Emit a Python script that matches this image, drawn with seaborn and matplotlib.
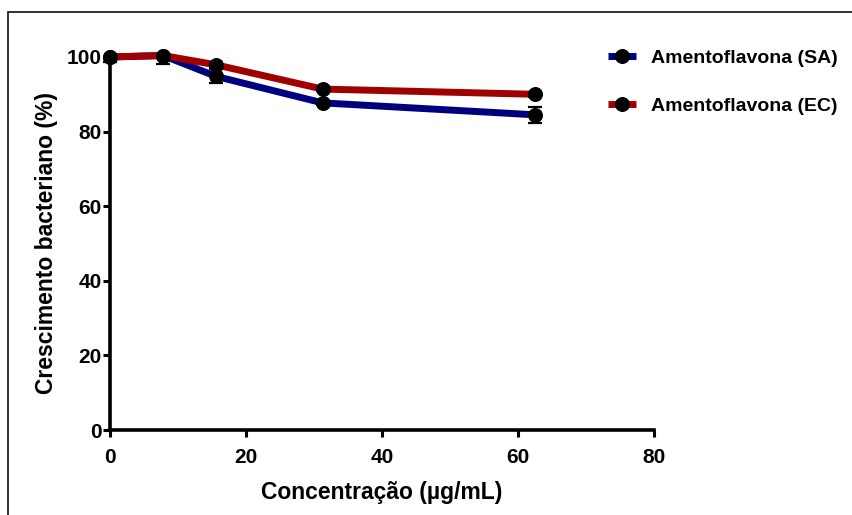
import matplotlib
matplotlib.use("Agg")
import matplotlib.pyplot as plt
import seaborn as sns
import pandas as pd
from matplotlib.patches import Rectangle

# Data
conc = [0, 7.8, 15.6, 31.25, 62.5]
sa_growth = [100.0, 100.4, 94.8, 87.7, 84.5]
sa_err = [1.3, 2.4, 1.9, 0.6, 2.1]
ec_growth = [100.0, 100.4, 97.9, 91.4, 90.0]
ec_err = [0.5, 0.5, 0.8, 0.6, 0.6]
series_names = ["Amentoflavona (SA)", "Amentoflavona (EC)"]
colors = ["#00007F", "#A00000"]
x_ticks = [0, 20, 40, 60, 80]
y_ticks = [0, 20, 40, 60, 80, 100]

sns.set_style("white")
plt.rcParams["font.family"] = ["Liberation Sans", "DejaVu Sans"]
plt.rcParams["font.weight"] = "bold"
plt.rcParams["text.color"] = "black"
plt.rcParams["axes.labelcolor"] = "black"
plt.rcParams["xtick.color"] = "black"
plt.rcParams["ytick.color"] = "black"

df = pd.DataFrame({
    "conc": conc * 2,
    "growth": sa_growth + ec_growth,
    "serie": [series_names[0]] * len(conc) + [series_names[1]] * len(conc),
})

fig = plt.figure(figsize=(8.52, 5.15), dpi=100)
ax = fig.add_axes([110 / 852, (515 - 430) / 515, (654 - 110) / 852, (430 - 57) / 515])

# frame around figure
fig.patches.append(Rectangle((8 / 852, -0.1), 1.2, (515 - 12) / 515 + 0.1,
                             transform=fig.transFigure, fill=False,
                             edgecolor="#222222", linewidth=1.3, zorder=0))

# error bars (clipped at the top of the y range, as in the original)
clip_rect = Rectangle((-10, -10), 100, 110, transform=ax.transData,
                      fill=False, visible=False)
ax.add_patch(clip_rect)
for g, e in [(sa_growth, sa_err), (ec_growth, ec_err)]:
    eb = ax.errorbar(conc, g, yerr=e, fmt="none", ecolor="black", elinewidth=1.6,
                     capsize=5, capthick=1.6, zorder=2)
    for art in eb.get_children():
        art.set_clip_on(True)
        art.set_clip_path(clip_rect)

sns.lineplot(data=df, x="conc", y="growth", hue="serie", palette=colors,
             hue_order=series_names, marker="o", markersize=10,
             markerfacecolor="black", markeredgecolor="black",
             linewidth=5, ax=ax, clip_on=False, zorder=3)

ax.set_xlim(0, 80)
ax.set_ylim(0, 100)
ax.set_xticks(x_ticks)
ax.set_yticks(y_ticks)
ax.set_xticklabels([str(t) for t in x_ticks], fontsize=15, fontweight="bold")
ax.set_yticklabels([str(t) for t in y_ticks], fontsize=15, fontweight="bold")
ax.set_xlabel("Concentração (µg/mL)", fontsize=16.5, fontweight="bold", labelpad=10)
ax.set_ylabel("Crescimento bacteriano (%)", fontsize=16.5, fontweight="bold", labelpad=6)

for s in ["top", "right"]:
    ax.spines[s].set_visible(False)
for s in ["left", "bottom"]:
    ax.spines[s].set_linewidth(2.6)
    ax.spines[s].set_color("black")
ax.tick_params(axis="both", which="major", bottom=True, left=True, direction="out",
               length=5, width=2.2, color="black")
ax.tick_params(axis="y", pad=1)
ax.tick_params(axis="x", pad=8)

handles, labels = ax.get_legend_handles_labels()
leg = ax.legend(handles, labels, loc="upper left", bbox_to_anchor=(590 / 852, 1 - 32 / 515),
                bbox_transform=fig.transFigure, frameon=False, fontsize=14,
                labelspacing=1.55, handlelength=1.45, handletextpad=0.8)
for t in leg.get_texts():
    t.set_fontweight("bold")
for h in leg.legend_handles:
    try:
        h.set_solid_capstyle("butt")
    except AttributeError:
        pass

fig.savefig("out.png", dpi=100)
